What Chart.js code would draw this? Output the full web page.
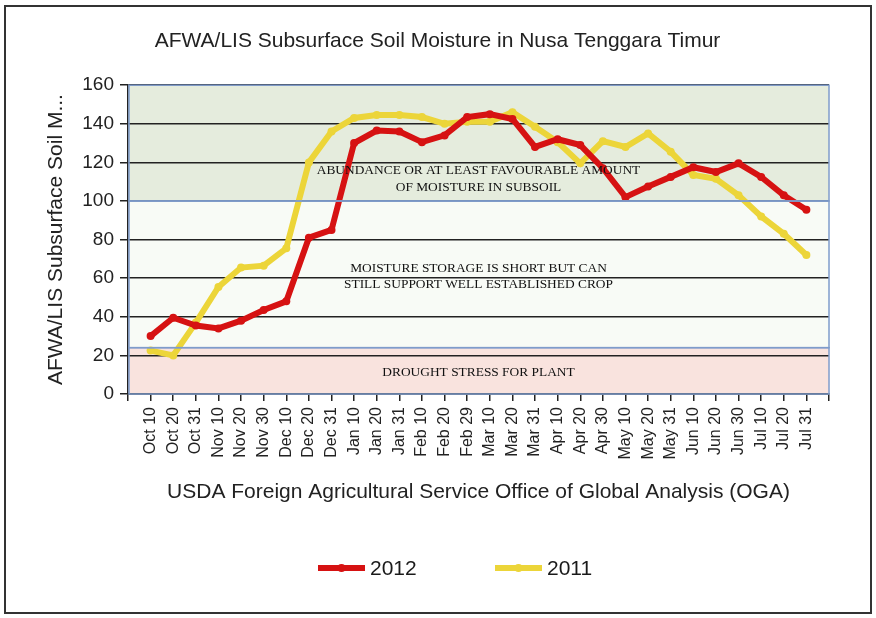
<!DOCTYPE html>
<html>
<head>
<meta charset="utf-8">
<title>AFWA/LIS Subsurface Soil Moisture</title>
<script src="https://cdn.jsdelivr.net/npm/chart.js@4.4.1/dist/chart.umd.min.js"></script>
<style>
  html, body { margin: 0; padding: 0; background: #fff; }
  #frame { position: absolute; left: 4px; top: 5px; width: 868px; height: 609px; border: 2px solid #333; box-sizing: border-box; }
  #wrap { position: absolute; left: 0; top: 0; width: 876px; height: 618px; }
</style>
</head>
<body>
<div id="frame"></div>
<div id="wrap"><canvas id="soilChart"></canvas></div>
<script>
// dekads, Oct 2011 -> Jul 2012
const dekads = [
  'Oct 10', 'Oct 20', 'Oct 31', 'Nov 10', 'Nov 20', 'Nov 30',
  'Dec 10', 'Dec 20', 'Dec 31', 'Jan 10', 'Jan 20', 'Jan 31',
  'Feb 10', 'Feb 20', 'Feb 29', 'Mar 10', 'Mar 20', 'Mar 31',
  'Apr 10', 'Apr 20', 'Apr 30', 'May 10', 'May 20', 'May 31',
  'Jun 10', 'Jun 20', 'Jun 30', 'Jul 10', 'Jul 20', 'Jul 31'
];

const moisture2012 = [
  30, 39.5, 35.5, 34, 38, 43.5,
  48, 81, 85, 130, 136.5, 136,
  130.5, 134, 143.5, 145, 142.5, 128,
  132, 129, 117, 102, 107.5, 112.5,
  117.5, 115, 119.5, 112.5, 103, 95.5
];

const moisture2011 = [
  22.5, 20, 37, 55.5, 65.5, 66.5,
  75.5, 120, 136, 143, 144.5, 144.5,
  143.5, 140, 141, 141, 146, 138.5,
  130.5, 119.5, 131, 128, 135, 125.5,
  113.5, 111.5, 103, 92, 83, 72
];

const yTicks = { min: 0, max: 160, step: 20 };

// moisture classes (y value ranges) and their notes
const zoneFrom = [100, 24, 0];
const zoneTo = [160, 100, 24];
const zoneNotes = [
  ['ABUNDANCE OR AT LEAST FAVOURABLE AMOUNT', 'OF MOISTURE IN SUBSOIL'],
  ['MOISTURE STORAGE IS SHORT BUT CAN', 'STILL SUPPORT WELL ESTABLISHED CROP'],
  ['DROUGHT STRESS FOR PLANT']
];

// styling for the zones (kept apart from the values above)
const zoneFill = ['#e5ecdd', '#f8fbf6', '#f9e3de'];
const zoneNoteAt = [[116, 107.2], [65.2, 57], [10.9]];

const sans = "'Liberation Sans', Arial, sans-serif";
const serif = "'Liberation Serif', 'Times New Roman', serif";

// one empty slot at each end so the points sit on ticks, one step in from the edges
const axisLabels = [''].concat(dekads, ['']);
const pad = (arr) => [null].concat(arr, [null]);

const zonePlugin = {
  id: 'zones',
  afterLayout(chart) {
    // title is centred on the whole frame, not on the padded box
    const t = chart.titleBlock;
    if (t) { t.left += 23; t.right += 23; }
  },
  beforeDraw(chart) {
    const { ctx, chartArea: a, scales: { y } } = chart;
    ctx.save();
    zoneFrom.forEach((from, i) => {
      const top = y.getPixelForValue(zoneTo[i]);
      const bottom = y.getPixelForValue(from);
      ctx.fillStyle = zoneFill[i];
      ctx.fillRect(a.left, top, a.right - a.left, bottom - top);
    });
    ctx.restore();
  },
  afterDatasetsDraw(chart) {
    const { ctx, chartArea: a, scales: { y } } = chart;
    ctx.save();
    ctx.strokeStyle = '#7f9ccb';
    ctx.lineWidth = 1.5;
    zoneFrom.forEach((from, i) => {
      const top = y.getPixelForValue(zoneTo[i]);
      const bottom = y.getPixelForValue(from);
      ctx.strokeRect(a.left + 1, top, a.right - a.left - 1, bottom - top);
    });
    ctx.restore();
  },
  afterDraw(chart) {
    const { ctx, chartArea: a, scales: { y } } = chart;
    const cx = (a.left + a.right) / 2;
    ctx.save();
    ctx.font = '13.4px ' + serif;
    ctx.fillStyle = '#111';
    ctx.textAlign = 'center';
    ctx.textBaseline = 'middle';
    zoneNotes.forEach((lines, i) => {
      lines.forEach((txt, j) => {
        ctx.fillText(txt, cx, y.getPixelForValue(zoneNoteAt[i][j]));
      });
    });

    // legend: thick line with a dot, then the year
    const legendX = [318, 495];
    const legendY = 568;
    chart.data.datasets.forEach((ds, i) => {
      const x0 = legendX[i];
      ctx.strokeStyle = ds.borderColor;
      ctx.lineWidth = 6;
      ctx.beginPath();
      ctx.moveTo(x0, legendY);
      ctx.lineTo(x0 + 47, legendY);
      ctx.stroke();
      ctx.fillStyle = ds.borderColor;
      ctx.beginPath();
      ctx.arc(x0 + 23.5, legendY, 4, 0, Math.PI * 2);
      ctx.fill();
      ctx.fillStyle = '#1a1a1a';
      ctx.font = '21px ' + sans;
      ctx.textAlign = 'left';
      ctx.fillText(ds.label, x0 + 52, legendY + 1);
    });
    ctx.restore();
  }
};

const data = {
  labels: axisLabels,
  datasets: [
    {
      label: '2012',
      data: pad(moisture2012),
      borderColor: '#d61212',
      backgroundColor: '#d61212',
      borderWidth: 6,
      pointRadius: 4,
      pointBorderWidth: 0,
      tension: 0
    },
    {
      label: '2011',
      data: pad(moisture2011),
      borderColor: '#ecd539',
      backgroundColor: '#ecd539',
      borderWidth: 6,
      pointRadius: 4,
      pointBorderWidth: 0,
      tension: 0
    }
  ]
};

const config = {
  type: 'line',
  data: data,
  options: {
    responsive: true,
    maintainAspectRatio: false,
    animation: false,
    devicePixelRatio: 1,
    layout: { padding: { left: 0, right: 47, top: 0, bottom: 111 } },
    plugins: {
      legend: { display: false },
      tooltip: { enabled: false },
      title: {
        display: true,
        text: 'AFWA/LIS Subsurface Soil Moisture in Nusa Tenggara Timur',
        color: '#222',
        font: { family: sans, size: 21, weight: 'normal' },
        padding: { top: 29, bottom: 31 }
      }
    },
    scales: {
      x: {
        offset: false,
        grid: { drawOnChartArea: false, drawTicks: true, tickLength: 7, color: '#222', lineWidth: 1.5 },
        border: { color: '#222', width: 1.5 },
        ticks: {
          autoSkip: false, minRotation: 90, maxRotation: 90,
          color: '#222', padding: 6,
          font: { family: sans, size: 16 }
        },
        title: {
          display: true,
          text: 'USDA Foreign Agricultural Service Office of Global Analysis (OGA)',
          color: '#222',
          font: { family: sans, size: 21 },
          padding: { top: 0, bottom: 2 }
        },
        afterFit: (s) => { s.height = 113; }
      },
      y: {
        min: yTicks.min,
        max: yTicks.max,
        grid: { color: '#222', lineWidth: 1.5, tickLength: 8 },
        border: { color: '#222', width: 1.5 },
        ticks: {
          stepSize: yTicks.step,
          color: '#222', padding: 6,
          font: { family: sans, size: 19 }
        },
        title: {
          display: true,
          text: 'AFWA/LIS Subsurface Soil M...',
          color: '#222',
          font: { family: sans, size: 21 },
          padding: { top: 44, bottom: 0 }
        },
        afterFit: (s) => { s.width = 128; }
      }
    }
  },
  plugins: [zonePlugin]
};

const soilChart = new Chart(document.getElementById('soilChart'), config);
</script>
</body>
</html>
